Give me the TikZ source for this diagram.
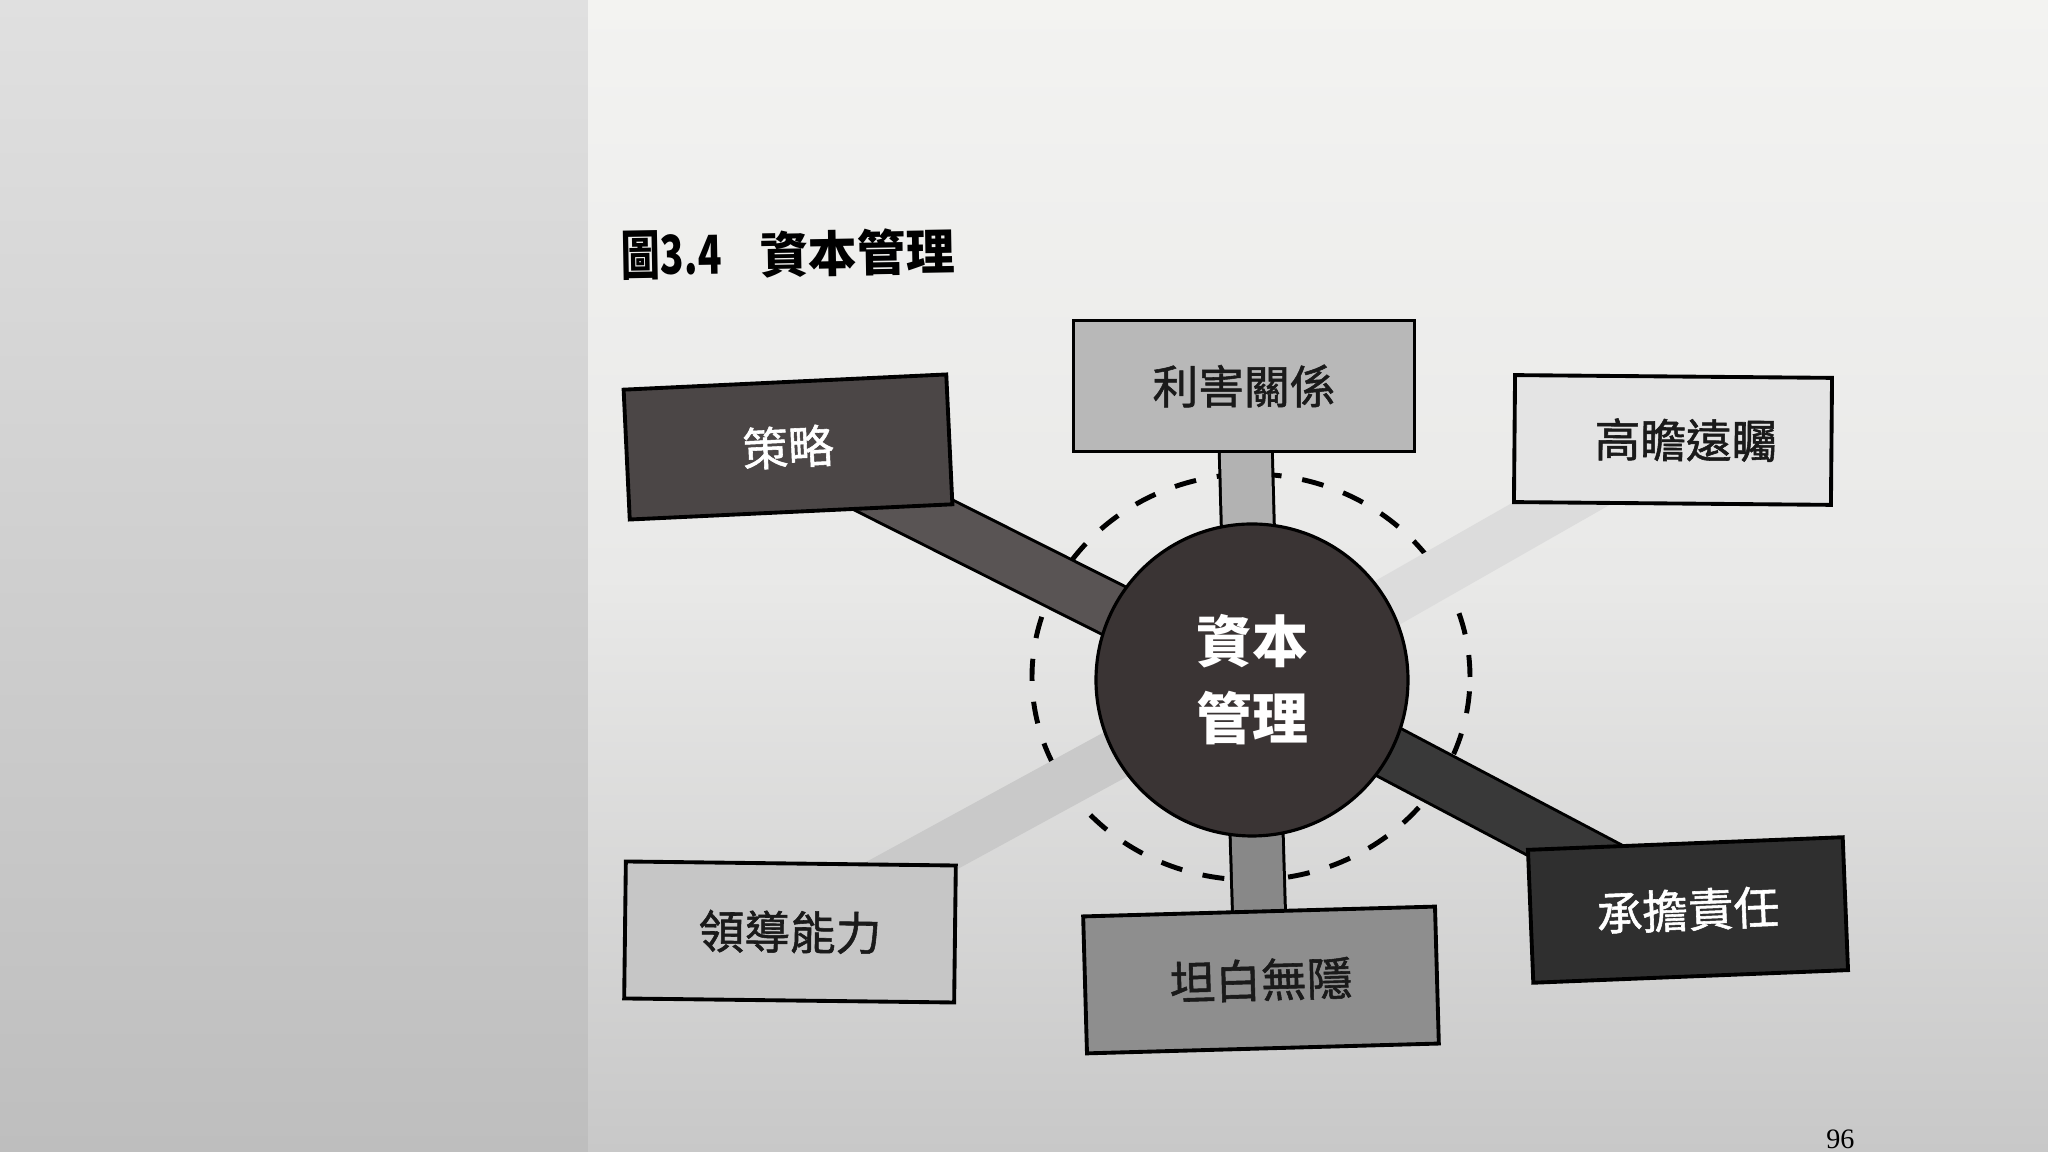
\documentclass[tikz,border=0pt]{standalone}
\usepackage{graphicx}
\usepackage{fontspec}
\newfontfamily\cjk{Noto Sans CJK TC}[FakeBold=1.2]
\newfontfamily\cjkheavy{Noto Sans CJK TC}
\newfontfamily\pagefont{Liberation Serif}
\usetikzlibrary{backgrounds}

\definecolor{leftpagetop}{HTML}{E0E0E0}
\definecolor{leftpagebottom}{HTML}{BEBEBE}
\definecolor{pagetop}{HTML}{F3F3F1}
\definecolor{pagemid}{HTML}{E9E9E8}
\definecolor{pagebottom}{HTML}{C8C8C8}
\definecolor{hubfill}{HTML}{3A3434}
\definecolor{strategyfill}{HTML}{4B4646}
\definecolor{stakefill}{HTML}{B8B8B8}
\definecolor{visionfill}{HTML}{E4E4E4}
\definecolor{leadfill}{HTML}{C6C6C6}
\definecolor{candorfill}{HTML}{8E8E8E}
\definecolor{dutyfill}{HTML}{2F2F2F}
\definecolor{strategybar}{HTML}{595454}
\definecolor{stakebar}{HTML}{B2B2B2}
\definecolor{visionbar}{HTML}{DCDCDC}
\definecolor{leadbar}{HTML}{C9C9C9}
\definecolor{candorbar}{HTML}{888888}
\definecolor{dutybar}{HTML}{393939}
\definecolor{ink}{HTML}{1A1A1A}

\tikzstyle{box}=[rectangle, draw=black, line width=1.1pt, inner sep=0pt,
                 text=ink, font=\cjk\fontsize{13}{15}\selectfont]
\tikzstyle{spoke}=[line width=0.5cm]
\tikzstyle{rimmed}=[preaction={draw=black, line width=0.56cm}]
\tikzstyle{ring}=[draw=black, line width=1.4pt,
                  dash pattern=on 0.22cm off 0.21cm]

\begin{document}
\begin{tikzpicture}[thick]
  \useasboundingbox (0, 0) rectangle (20.48, 11.52);

  \node[anchor=west, inner sep=0pt, rotate=1,
        font=\cjkheavy\bfseries\fontsize{13.9}{16}\selectfont] (title)
        at (6.20, 8.96) {\scalebox{0.8}[1.1]{圖3.4}\hspace{0.38cm}資本管理};

  \node[circle, draw=black, line width=0.9pt, fill=hubfill, inner sep=0pt,
        minimum size=3.12cm, text=white, align=center,
        font=\cjkheavy\bfseries\fontsize{15.9}{21.9}\selectfont] (hub)
        at (12.52, 4.72) {資本\\管理};

  \node[box, fill=strategyfill, text=white, minimum width=3.23cm,
        minimum height=1.30cm, rotate=2.7] (strategy) at (7.88, 7.05) {策略};
  \node[box, fill=stakefill, minimum width=3.41cm,
        minimum height=1.31cm] (stake) at (12.44, 7.66) {利害關係};
  \node[box, fill=visionfill, minimum width=3.17cm,
        minimum height=1.27cm, rotate=-0.5] (vision)
        at (16.73, 7.12) {\hspace{0.26cm}高瞻遠矚};
  \node[box, fill=leadfill, minimum width=3.30cm,
        minimum height=1.37cm, rotate=-0.7] (lead)
        at (7.90, 2.20) {領導能力\hspace{0.14cm}};
  \node[box, fill=candorfill, minimum width=3.52cm,
        minimum height=1.37cm, rotate=1.6] (candor) at (12.61, 1.72) {坦白無隱};
  \node[box, fill=dutyfill, text=white, minimum width=3.15cm,
        minimum height=1.33cm, rotate=2.3] (duty) at (16.88, 2.42) {承擔責任};

  \node[anchor=base west, inner sep=0pt,
        font=\pagefont\fontsize{8}{9}\selectfont] (page) at (18.25, 0.03) {96};

  % page, ring and spokes go under the boxes
  \begin{scope}[on background layer]
    \shade[top color=leftpagetop, bottom color=leftpagebottom]
          (0, 0) rectangle (5.88, 11.52);
    \shade[top color=pagetop, bottom color=pagebottom, middle color=pagemid]
          (5.88, 0) rectangle (20.48, 11.52);

    \draw[ring] (12.51, 4.75) ellipse [x radius=2.19, y radius=2.03];

    \draw[spoke, rimmed, draw=stakebar] (hub.center) -- (stake.center);
    \draw[spoke, rimmed, draw=strategybar] (hub.center) -- (strategy.center);
    \draw[spoke, draw=visionbar] (hub.center) -- (vision.center);
    \draw[spoke, draw=leadbar] (hub.center) -- (lead.center);
    \draw[spoke, rimmed, draw=candorbar] (hub.center) -- (candor.center);
    \draw[spoke, rimmed, draw=dutybar] (hub.center) -- (duty.center);
  \end{scope}
\end{tikzpicture}
\end{document}
